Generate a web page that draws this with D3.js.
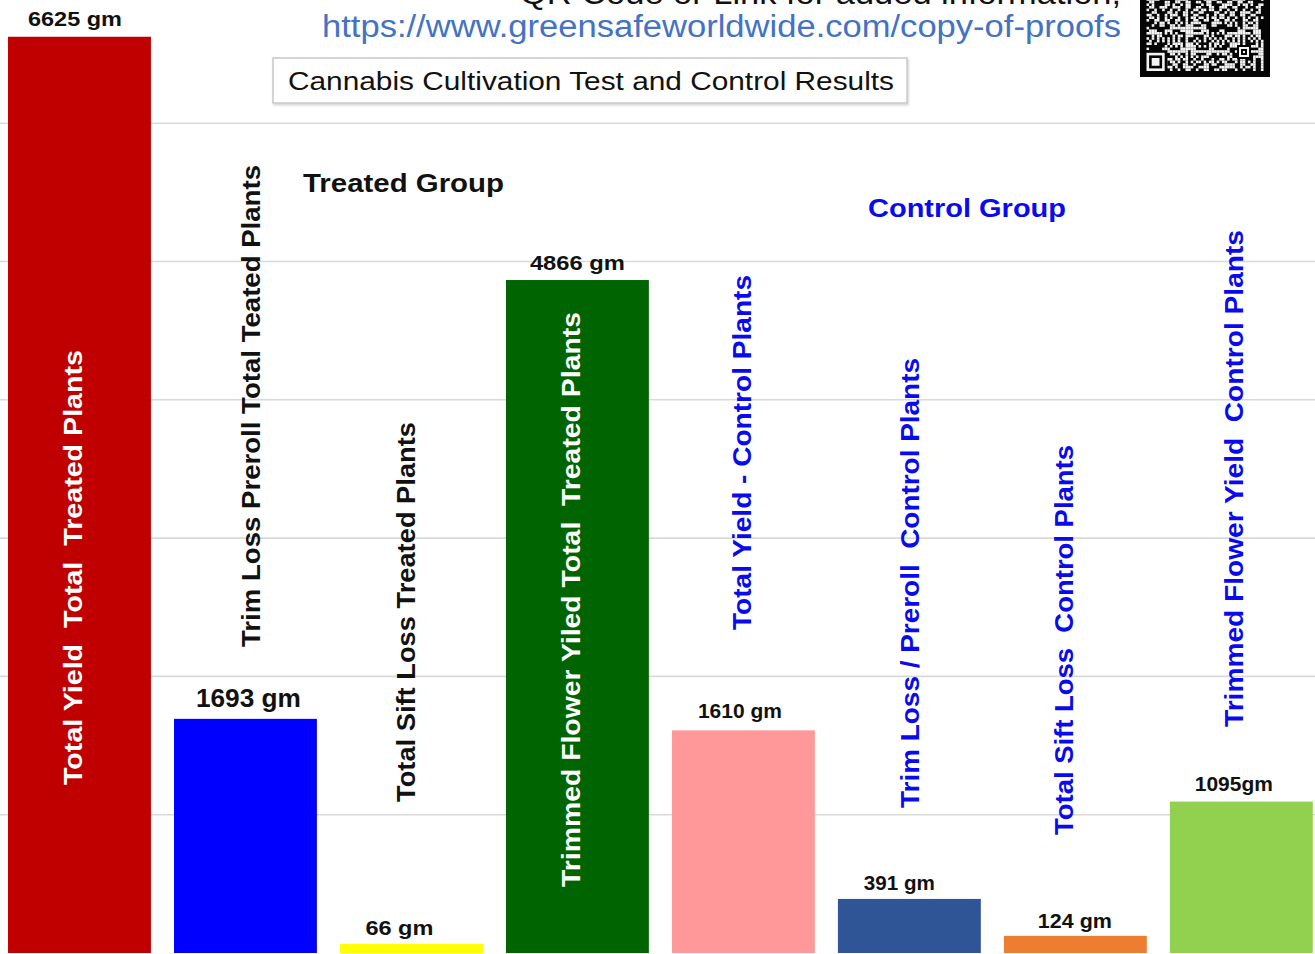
<!DOCTYPE html>
<html>
<head>
<meta charset="utf-8">
<script src="https://cdn.jsdelivr.net/npm/d3@7"></script>
<style>
  html, body { margin: 0; padding: 0; background: #ffffff; }
  svg { display: block; }
</style>
</head>
<body>
<svg id="chart" width="1315" height="954"></svg>
<script>
// ---- data ----
const categories = [
  "Total Yield  Total  Treated Plants",
  "Trim Loss Preroll Total Teated Plants",
  "Total Sift Loss Treated Plants",
  "Trimmed Flower Yiled Total  Treated Plants",
  "Total Yield - Control Plants",
  "Trim Loss / Preroll  Control Plants",
  "Total Sift Loss  Control Plants",
  "Trimmed Flower Yield  Control Plants"
];
const values = [6625, 1693, 66, 4866, 1610, 391, 124, 1095];
const valueLabels = ["6625 gm", "1693 gm", "66 gm", "4866 gm", "1610 gm", "391 gm", "124 gm", "1095gm"];
const barColors = ["#c00000", "#0000ff", "#ffff00", "#006400", "#ff9999", "#2f5597", "#ed7d31", "#92d050"];
const categoryTextColors = ["#ffffff", "#111111", "#111111", "#ffffff", "#0a0aee", "#0a0aee", "#0a0aee", "#0a0aee"];
const gridTicks = [1000, 2000, 3000, 4000, 5000, 6000];
const groupNames = ["Treated Group", "Control Group"];
const titleText = "Cannabis Cultivation Test and Control Results";
const linkText = "https://www.greensafeworldwide.com/copy-of-proofs";
const noteText = "QR Code or Link for added information,";

// ---- layout (pixel placement of the free-floating text) ----
const valueLabelLayout = [
  { dx: -4.5, dy: -11, size: 21, len: 94 },
  { dx: 3,    dy: -12, size: 26, len: 105 },
  { dx: -12,  dy: -9,  size: 21, len: 68 },
  { dx: 0,    dy: -10, size: 21, len: 95 },
  { dx: -3.5, dy: -12, size: 21, len: 84 },
  { dx: -10,  dy: -9,  size: 21, len: 71 },
  { dx: -0.5, dy: -8,  size: 21, len: 74 },
  { dx: -7.5, dy: -11, size: 21, len: 78 }
];
const categoryLabelLayout = [
  { dx: 2.5,  y: 785, len: 435 },
  { dx: 14.5, y: 647, len: 482 },
  { dx: 3.5,  y: 802, len: 380 },
  { dx: 2.5,  y: 887, len: 575 },
  { dx: 7.5,  y: 630, len: 355 },
  { dx: 9.5,  y: 808, len: 450 },
  { dx: -2.5, y: 835, len: 390 },
  { dx: 1.5,  y: 727, len: 497 }
];
const groupLayout = [
  { x: 303, y: 192, len: 201, color: "#111111" },
  { x: 868, y: 217, len: 198, color: "#0a0aee" }
];

const W = 1315, H = 954;
const svg = d3.select("#chart");
const FONT = "'Liberation Sans', Arial, sans-serif";

// scales: band per category, linear grams axis (top of axis sits just above the frame)
const x = d3.scaleBand()
  .domain(categories)
  .range([-3.6, 1324.4])
  .paddingInner(0.139)
  .paddingOuter(0.07);
const y = d3.scaleLinear()
  .domain([0, 7000])
  .range([953, 953 - 7000 * 0.1383]);

// horizontal gridlines
svg.append("g")
  .selectAll("line")
  .data(gridTicks)
  .join("line")
  .attr("x1", 0).attr("x2", W)
  .attr("y1", d => y(d)).attr("y2", d => y(d))
  .attr("stroke", "#d9d9d9")
  .attr("stroke-width", 1.6);

// bars
svg.append("g")
  .selectAll("rect")
  .data(categories)
  .join("rect")
  .attr("x", d => x(d))
  .attr("width", x.bandwidth())
  .attr("y", (d, i) => y(values[i]))
  .attr("height", (d, i) => y(0) - y(values[i]))
  .attr("fill", (d, i) => barColors[i]);

// value labels above the bars
svg.append("g")
  .selectAll("text")
  .data(categories)
  .join("text")
  .attr("x", (d, i) => x(d) + x.bandwidth() / 2 + valueLabelLayout[i].dx)
  .attr("y", (d, i) => y(values[i]) + valueLabelLayout[i].dy)
  .attr("text-anchor", "middle")
  .attr("font-family", FONT)
  .attr("font-weight", "bold")
  .attr("font-size", (d, i) => valueLabelLayout[i].size)
  .attr("textLength", (d, i) => valueLabelLayout[i].len)
  .attr("lengthAdjust", "spacingAndGlyphs")
  .attr("fill", "#111111")
  .text((d, i) => valueLabels[i]);

// vertical category labels
svg.append("g")
  .selectAll("text")
  .data(categories)
  .join("text")
  .attr("transform", (d, i) => {
    const cx = x(d) + x.bandwidth() / 2 + categoryLabelLayout[i].dx;
    return `translate(${cx},${categoryLabelLayout[i].y}) rotate(-90)`;
  })
  .attr("text-anchor", "start")
  .attr("font-family", FONT)
  .attr("font-weight", "bold")
  .attr("font-size", 26)
  .attr("textLength", (d, i) => categoryLabelLayout[i].len)
  .attr("lengthAdjust", "spacingAndGlyphs")
  .attr("fill", (d, i) => categoryTextColors[i])
  .style("white-space", "pre")
  .text(d => d);

// group headings
svg.append("g")
  .selectAll("text")
  .data(groupNames)
  .join("text")
  .attr("x", (d, i) => groupLayout[i].x)
  .attr("y", (d, i) => groupLayout[i].y)
  .attr("font-family", FONT)
  .attr("font-weight", "bold")
  .attr("font-size", 26)
  .attr("textLength", (d, i) => groupLayout[i].len)
  .attr("lengthAdjust", "spacingAndGlyphs")
  .attr("fill", (d, i) => groupLayout[i].color)
  .text(d => d);

// title box
const defs = svg.append("defs");
const shadow = defs.append("filter").attr("id", "boxShadow")
  .attr("x", "-5%").attr("y", "-20%").attr("width", "110%").attr("height", "150%");
shadow.append("feDropShadow")
  .attr("dx", 1).attr("dy", 1.5).attr("stdDeviation", 1)
  .attr("flood-color", "#000").attr("flood-opacity", 0.18);

svg.append("rect")
  .attr("x", 273).attr("y", 58)
  .attr("width", 634).attr("height", 45)
  .attr("fill", "#ffffff")
  .attr("stroke", "#c8c8c8")
  .attr("stroke-width", 1.5)
  .attr("filter", "url(#boxShadow)");
svg.append("text")
  .attr("x", 288).attr("y", 90)
  .attr("font-family", FONT)
  .attr("font-size", 25)
  .attr("textLength", 606)
  .attr("lengthAdjust", "spacingAndGlyphs")
  .attr("fill", "#111111")
  .text(titleText);

// note line (runs off the top edge) and link
svg.append("text")
  .attr("x", 1121).attr("y", 4)
  .attr("text-anchor", "end")
  .attr("font-family", FONT)
  .attr("font-size", 31)
  .attr("textLength", 601)
  .attr("lengthAdjust", "spacingAndGlyphs")
  .attr("fill", "#111111")
  .text(noteText);
svg.append("text")
  .attr("x", 1121).attr("y", 37)
  .attr("text-anchor", "end")
  .attr("font-family", FONT)
  .attr("font-size", 31)
  .attr("textLength", 799)
  .attr("lengthAdjust", "spacingAndGlyphs")
  .attr("fill", "#4472c4")
  .text(linkText);

// QR code tile (light modules on a dark field)
const qr = svg.append("g");
qr.append("rect").attr("x", 1140).attr("y", 0).attr("width", 130).attr("height", 77).attr("fill", "#050505");
const mod = 2.6, qx0 = 1146.5, qyBottom = 71, cols = 45, rows = 28;
const cells = [];
for (let r = 0; r < rows; r++) {
  for (let c = 0; c < cols; c++) {
    const h = (r * 131 + c * 71 + ((r * c) % 17) * 29 + ((r ^ c) * 7)) % 11;
    if (h < 5) cells.push({ r, c });
  }
}
qr.append("g").selectAll("rect")
  .data(cells)
  .join("rect")
  .attr("x", d => qx0 + d.c * mod)
  .attr("y", d => qyBottom - (rows - d.r) * mod)
  .attr("width", mod).attr("height", mod)
  .attr("fill", "#f4f4f4");
// finder pattern, bottom-left, plus small alignment mark
function finder(x0, y0, m, n) {
  qr.append("rect").attr("x", x0 - m).attr("y", y0 - m).attr("width", (n + 2) * m).attr("height", (n + 2) * m).attr("fill", "#050505");
  qr.append("rect").attr("x", x0).attr("y", y0).attr("width", n * m).attr("height", n * m).attr("fill", "#f4f4f4");
  qr.append("rect").attr("x", x0 + m).attr("y", y0 + m).attr("width", (n - 2) * m).attr("height", (n - 2) * m).attr("fill", "#050505");
  qr.append("rect").attr("x", x0 + 2 * m).attr("y", y0 + 2 * m).attr("width", (n - 4) * m).attr("height", (n - 4) * m).attr("fill", "#f4f4f4");
}
finder(qx0, qyBottom - 7 * mod, mod, 7);
finder(1239, 47, 2, 5);
</script>
</body>
</html>
